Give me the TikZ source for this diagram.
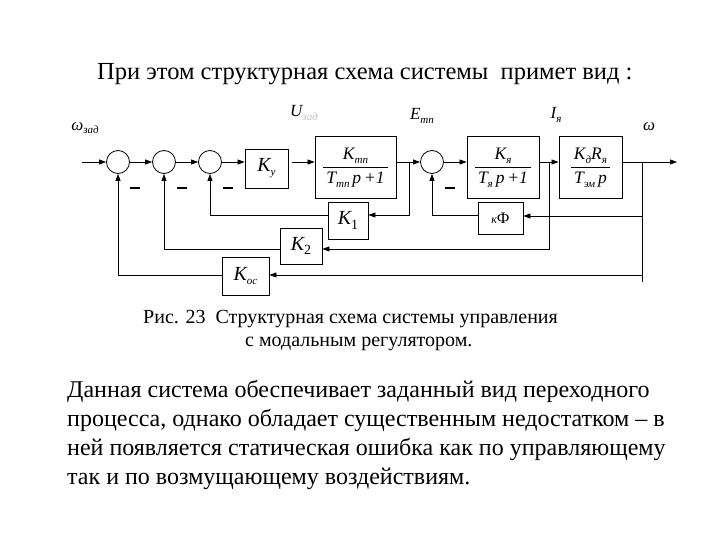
\documentclass[tikz,border=0pt]{standalone}
\usepackage{fontspec}
\setmainfont{Liberation Serif}
\usetikzlibrary{arrows.meta}
\newcommand\ssub[1]{\raisebox{-0.45ex}{\fontsize{11}{11}\selectfont\itshape #1}}
\newcommand\nsub[1]{\raisebox{-0.45ex}{\fontsize{14}{14}\selectfont\upshape #1}}
\newcommand\frc[2]{\renewcommand\arraystretch{1.35}\begin{tabular}{@{\,}c@{\,}}#1\\\hline #2\end{tabular}}
\begin{document}
\begin{tikzpicture}[x=1pt,y=-1pt,
  blk/.style={draw, line width=0.8pt, inner sep=0pt, align=center},
  sumnode/.style={draw, circle, minimum size=23pt, inner sep=0pt, line width=0.8pt},
  arr/.style={-{Triangle[length=7pt,width=5pt]}, line width=0.7pt},
  ln/.style={line width=0.7pt},
  minus/.style={line width=2.4pt},
  lbl/.style={font=\fontsize{17}{17}\selectfont\itshape, inner sep=0pt},
  bigk/.style={font=\fontsize{20}{20}\selectfont\itshape},
  frk/.style={font=\fontsize{17.5}{17.5}\selectfont\itshape},
  title/.style={anchor=base west, inner sep=0pt, font=\fontsize{24.5}{24.5}\selectfont},
  captxt/.style={anchor=base west, inner sep=0pt, font=\fontsize{20}{20}\selectfont},
  partxt/.style={anchor=base west, inner sep=0pt, font=\fontsize{24}{24}\selectfont}]
\useasboundingbox (0,0) rectangle (720,540);
\fill[white] (0,0) rectangle (720,540);

% title
\node[title] (ttl) at (97,80) {При этом структурная схема системы\ \ примет вид~:};

% summing junctions
\node[sumnode] (s1) at (118,162) {};
\node[sumnode] (s2) at (164,162) {};
\node[sumnode] (s3) at (210,162) {};
\node[sumnode] (s4) at (432,162) {};

% blocks
\node[blk, minimum width=43pt, minimum height=39pt, bigk] (ky) at (266.5,168.5) {K\ssub{у}};
\node[blk, minimum width=81pt, minimum height=62pt, frk] (ktp) at (355.5,167) {\frc{K\ssub{тп}}{T\ssub{тп}\,p\,+1}};
\node[blk, minimum width=72pt, minimum height=62pt, frk] (kya) at (503,167) {\frc{K\ssub{я}}{T\ssub{я}\,p\,+1}};
\node[blk, minimum width=63pt, minimum height=62pt, frk] (kd) at (590.5,167) {\frc{K\ssub{д}R\ssub{я}}{T\ssub{эм}\,p}};
\node[blk, minimum width=40pt, minimum height=37pt, bigk] (k1) at (348,220.5) {K\nsub{1}};
\node[blk, minimum width=42pt, minimum height=36pt, bigk] (k2) at (301,246) {K\nsub{2}};
\node[blk, minimum width=47pt, minimum height=38pt, bigk] (koc) at (245.5,276) {K\ssub{ос}};
\node[blk, minimum width=45pt, minimum height=32pt, font=\fontsize{16}{16}\selectfont] (kf) at (500.5,218) {{\itshape\fontsize{12}{12}\selectfont к}Ф};

% signal labels
\node[lbl] (lw0) at (85,128) {ω\ssub{зад}};
\node[lbl] (lu) at (304,113) {U{\color{black!25}\ssub{зад}}};
\node[lbl] (le) at (422,116) {E\ssub{тп}};
\node[lbl] (li) at (556,115) {I\ssub{я}};
\node[lbl] (lw) at (649,127) {ω};

% coordinates
\coordinate (in) at (82,162);
\coordinate (out) at (677,162);
\coordinate (bE) at (409,162);
\coordinate (bI) at (549,162);
\coordinate (bW) at (642,162);
\coordinate (bWend) at (642,282);

% forward path
\draw[arr] (in) -- (s1);
\draw[arr] (s1) -- (s2);
\draw[arr] (s2) -- (s3);
\draw[arr] (s3) -- (ky.west |- s3);
\draw[arr] (ky.east |- s3) ++(4,0) -- (ktp.west |- s3);
\draw[arr] (ktp.east |- s4) -- (s4);
\draw[arr] (s4) -- (kya.west |- s4);
\draw[arr] (kya.east |- s4) -- (kd.west |- s4);
\draw[arr] (kd.east |- s4) -- (out);

% feedback paths
\draw[arr] (bE) |- (k1.east |- 0,215);
\draw[arr] (bI) |- (k2.east |- 0,249);
\draw[ln] (bW) -- (bWend);
\draw[arr] (bW |- 0,216) -- (kf.east |- 0,216);
\draw[arr] (bW |- 0,275) -- (koc.east |- 0,275);
\draw[arr] (k1.west |- 0,215) -| (s3);
\draw[arr] (k2.west |- 0,249) -| (s2);
\draw[arr] (koc.west |- 0,275) -| (s1);
\draw[arr] (kf.west |- 0,215) -| (s4);

% minus signs
\draw[minus] (130,188) -- (140,188);
\draw[minus] (177,188) -- (187,188);
\draw[minus] (223,188) -- (233,188);
\draw[minus] (445,188) -- (455,188);

% caption
\node[captxt] (cap1) at (143,323) {Рис. 23\ \ Структурная схема системы управления};
\node[captxt] (cap2) at (245,346) {с модальным регулятором.};

% paragraph
\node[partxt] (p1) at (67,397) {Данная система обеспечивает заданный вид переходного};
\node[partxt] (p2) at (67,426) {процесса, однако обладает существенным недостатком – в};
\node[partxt] (p3) at (67,455) {ней появляется статическая ошибка как по управляющему};
\node[partxt] (p4) at (67,484) {так и по возмущающему воздействиям.};
\end{tikzpicture}
\end{document}
